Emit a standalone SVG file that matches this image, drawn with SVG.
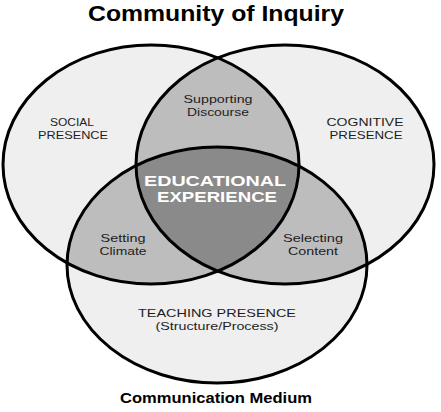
<svg xmlns="http://www.w3.org/2000/svg" xmlns:xlink="http://www.w3.org/1999/xlink" width="441" height="412" viewBox="0 0 441 412">
<style>
.ring{fill:none;stroke:#000;stroke-width:3}
.single{fill:#efefef}
.pair{fill:#bdbdbd}
.core{fill:#8a8a8a}
.lbl{font-family:"Liberation Sans",Arial,Helvetica,sans-serif;fill:#1e1e1e;text-anchor:middle;font-size:11.5px}
.hd{font-family:"Liberation Sans",Arial,Helvetica,sans-serif;font-weight:bold;fill:#000;text-anchor:middle}
.core-t{font-family:"Liberation Sans",Arial,Helvetica,sans-serif;font-weight:bold;fill:#fff;text-anchor:middle;font-size:14.5px}
</style>
<defs>
<ellipse id="eS" cx="151" cy="164.5" rx="148" ry="119.5"/>
<ellipse id="eC" cx="285" cy="164.5" rx="149" ry="119.5"/>
<ellipse id="eT" cx="217" cy="265" rx="150" ry="118"/>
<clipPath id="cS"><ellipse cx="151" cy="164.5" rx="148" ry="119.5"/></clipPath>
<clipPath id="cC"><ellipse cx="285" cy="164.5" rx="149" ry="119.5"/></clipPath>
<clipPath id="cT"><ellipse cx="217" cy="265" rx="150" ry="118"/></clipPath>
</defs>
<rect width="441" height="412" fill="#fff"/>
<text class="hd" x="216" y="21" font-size="21.5" textLength="256" lengthAdjust="spacingAndGlyphs">Community of Inquiry</text>
<g id="regions">
<use xlink:href="#eS" class="single"/>
<use xlink:href="#eC" class="single"/>
<use xlink:href="#eT" class="single"/>
<use xlink:href="#eS" class="pair" clip-path="url(#cC)"/>
<use xlink:href="#eS" class="pair" clip-path="url(#cT)"/>
<use xlink:href="#eC" class="pair" clip-path="url(#cT)"/>
<g clip-path="url(#cT)"><use xlink:href="#eS" class="core" clip-path="url(#cC)"/></g>
</g>
<g id="social-presence">
<use xlink:href="#eS" class="ring"/>
<text class="lbl" x="72" y="125.5" textLength="44" lengthAdjust="spacingAndGlyphs">SOCIAL</text>
<text class="lbl" x="73" y="138.5" textLength="70" lengthAdjust="spacingAndGlyphs">PRESENCE</text>
</g>
<g id="cognitive-presence">
<use xlink:href="#eC" class="ring"/>
<text class="lbl" x="365" y="125.5" textLength="77" lengthAdjust="spacingAndGlyphs">COGNITIVE</text>
<text class="lbl" x="366" y="138.5" textLength="73" lengthAdjust="spacingAndGlyphs">PRESENCE</text>
</g>
<g id="teaching-presence">
<use xlink:href="#eT" class="ring"/>
<text class="lbl" x="217" y="316.5" textLength="158" lengthAdjust="spacingAndGlyphs">TEACHING PRESENCE</text>
<text class="lbl" x="217" y="329.5" textLength="123" lengthAdjust="spacingAndGlyphs">(Structure/Process)</text>
</g>
<g id="supporting-discourse">
<text class="lbl" x="218" y="102.5" textLength="69" lengthAdjust="spacingAndGlyphs">Supporting</text>
<text class="lbl" x="218" y="115.5" textLength="62" lengthAdjust="spacingAndGlyphs">Discourse</text>
</g>
<g id="setting-climate">
<text class="lbl" x="123" y="241.5" textLength="45" lengthAdjust="spacingAndGlyphs">Setting</text>
<text class="lbl" x="123" y="254.5" textLength="47" lengthAdjust="spacingAndGlyphs">Climate</text>
</g>
<g id="selecting-content">
<text class="lbl" x="313" y="241.5" textLength="60" lengthAdjust="spacingAndGlyphs">Selecting</text>
<text class="lbl" x="313" y="254.5" textLength="50" lengthAdjust="spacingAndGlyphs">Content</text>
</g>
<g id="educational-experience">
<text class="core-t" x="215" y="186" textLength="142" lengthAdjust="spacingAndGlyphs">EDUCATIONAL</text>
<text class="core-t" x="217" y="201.5" textLength="120" lengthAdjust="spacingAndGlyphs">EXPERIENCE</text>
</g>
<g id="connectors"></g>
<text class="hd" x="216" y="403" font-size="15" textLength="192" lengthAdjust="spacingAndGlyphs">Communication Medium</text>
</svg>
